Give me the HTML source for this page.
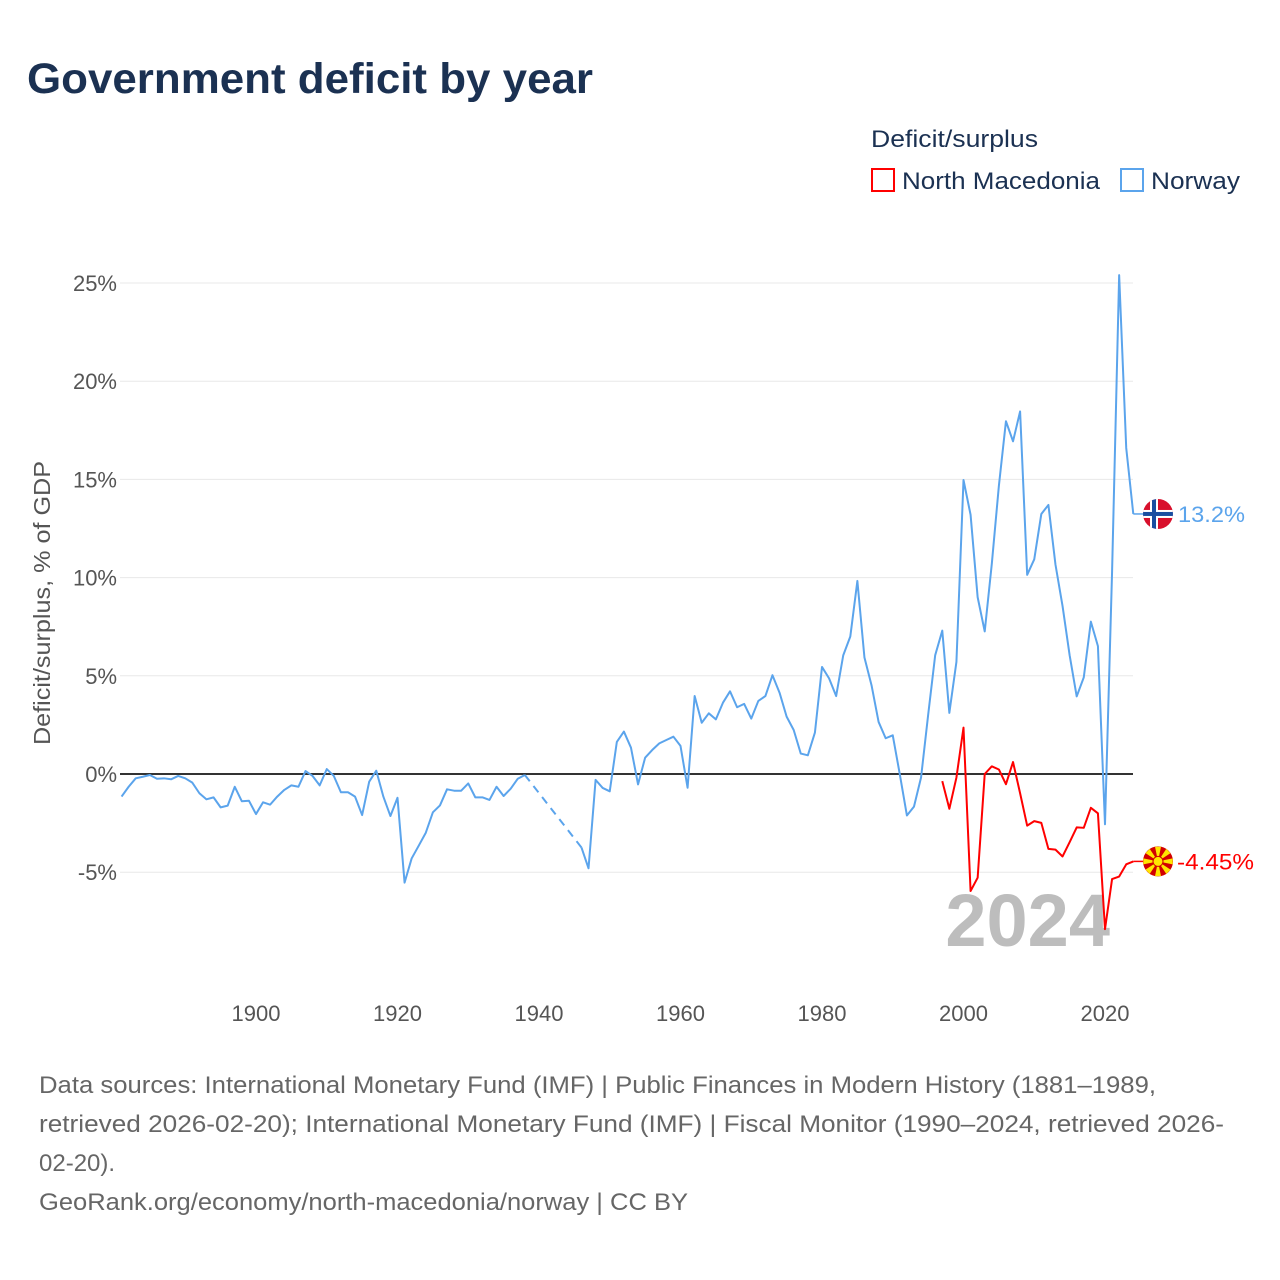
<!DOCTYPE html>
<html><head><meta charset="utf-8"><style>
html,body{margin:0;padding:0;background:#fff;width:1280px;height:1280px;overflow:hidden;font-family:"Liberation Sans",sans-serif;}
</style></head><body>
<svg id="chart" width="1280" height="1280" xmlns="http://www.w3.org/2000/svg" font-family="Liberation Sans, sans-serif">
<text x="27" y="93" font-size="43" font-weight="bold" fill="#1b3152" textLength="566" lengthAdjust="spacingAndGlyphs">Government deficit by year</text>
<g>
<text x="871" y="147" font-size="24" fill="#1b3152" textLength="167" lengthAdjust="spacingAndGlyphs">Deficit/surplus</text>
<rect x="872" y="169" width="22" height="22" fill="none" stroke="#f00" stroke-width="2"/>
<text x="902" y="189" font-size="24" fill="#1b3152" textLength="198" lengthAdjust="spacingAndGlyphs">North Macedonia</text>
<rect x="1121" y="169" width="22" height="22" fill="none" stroke="#5ba4ec" stroke-width="2"/>
<text x="1151" y="189" font-size="24" fill="#1b3152" textLength="89" lengthAdjust="spacingAndGlyphs">Norway</text>
</g>
<text transform="translate(50,603) rotate(-90)" text-anchor="middle" font-size="23" fill="#555" textLength="284" lengthAdjust="spacingAndGlyphs">Deficit/surplus, % of GDP</text>
<g id="grid"></g>
<text x="1110" y="946" text-anchor="end" font-size="74" font-weight="bold" fill="#bdbdbd">2024</text>
<g id="series"></g>
<g font-size="24" fill="#666">
<text x="39" y="1093" textLength="1117" lengthAdjust="spacingAndGlyphs">Data sources: International Monetary Fund (IMF) | Public Finances in Modern History (1881–1989,</text>
<text x="39" y="1132" textLength="1185" lengthAdjust="spacingAndGlyphs">retrieved 2026-02-20); International Monetary Fund (IMF) | Fiscal Monitor (1990–2024, retrieved 2026-</text>
<text x="39" y="1171">02-20).</text>
<text x="39" y="1210" textLength="649" lengthAdjust="spacingAndGlyphs">GeoRank.org/economy/north-macedonia/norway | CC BY</text>
</g>
</svg>
<script>
const yTicks = [-5, 0, 5, 10, 15, 20, 25];
const xTicks = [1900, 1920, 1940, 1960, 1980, 2000, 2020];
const norwayStart = 1881;
const norwayValues = [-1.15,-0.65,-0.22,-0.14,-0.05,-0.24,-0.22,-0.27,-0.10,-0.22,-0.44,-0.98,-1.29,-1.19,-1.70,-1.61,-0.65,-1.39,-1.36,-2.04,-1.44,-1.56,-1.15,-0.81,-0.58,-0.65,0.15,-0.10,-0.58,0.25,-0.10,-0.93,-0.93,-1.15,-2.09,-0.39,0.17,-1.15,-2.14,-1.21,-5.53,-4.30,-3.65,-2.99,-1.95,-1.60,-0.78,-0.85,-0.85,-0.48,-1.19,-1.19,-1.32,-0.65,-1.12,-0.75,-0.24,-0.05,
null,null,null,null,null,null,null,-3.74,-4.80,
-0.30,-0.71,-0.88,1.63,2.16,1.34,-0.53,0.83,1.22,1.56,1.73,1.90,1.43,-0.70,3.97,2.61,3.09,2.78,3.63,4.21,3.40,3.57,2.82,3.72,3.97,5.03,4.14,2.92,2.24,1.04,0.95,2.11,5.45,4.87,3.97,6.04,7.00,9.83,5.93,4.52,2.65,1.82,1.97,-0.02,-2.11,-1.66,-0.18,3.0,6.05,7.30,3.11,5.71,14.97,13.2,9.0,7.26,10.7,14.67,17.96,16.94,18.46,10.14,10.93,13.24,13.7,10.66,8.55,6.05,3.95,4.92,7.76,6.51,-2.56,10.3,25.4,16.6,13.24];
const macedoniaStart = 1997;
const macedoniaValues = [-0.36,-1.77,-0.18,2.36,-5.96,-5.28,0.0,0.39,0.23,-0.52,0.61,-0.98,-2.63,-2.40,-2.49,-3.81,-3.85,-4.2,-3.47,-2.72,-2.74,-1.72,-2.0,-7.9,-5.35,-5.22,-4.6,-4.45];
const endLabels = ["13.2%", "-4.45%"];

const NS = "http://www.w3.org/2000/svg";
const X = yr => 256 + (yr - 1900) * (1105 - 256) / 120;
const Y = v => 774 - v * (774 - 283) / 25;
function mk(tag, attrs, parent){const e=document.createElementNS(NS,tag);for(const k in attrs)e.setAttribute(k,attrs[k]);parent.appendChild(e);return e;}
const grid = document.getElementById('grid');
yTicks.forEach(t=>{
  const l = mk('line',{x1:120,x2:1133,y1:Y(t),y2:Y(t),stroke:t===0?'#333':'#e8e8e8','stroke-width':t===0?2:1},grid);
  
  
  const tx = mk('text',{x:117,y:Y(t)+8,'text-anchor':'end','font-size':22,fill:'#555'},grid);
  tx.textContent = t + '%';
  
  
});
xTicks.forEach(t=>{
  const tx = mk('text',{x:X(t),y:1021,'text-anchor':'middle','font-size':22,fill:'#555'},grid);
  tx.textContent = t;
  
  
});
const series = document.getElementById('series');
function drawSeries(start, vals, color, name){
  let seg = [], lastPt = null, pendingGap = false;
  const paths = [];
  vals.forEach((v,i)=>{
    if(v===null){ if(seg.length){paths.push({pts:seg,dash:false});lastPt=seg[seg.length-1];seg=[];} pendingGap=true; return;}
    const p=[X(start+i),Y(v)];
    if(pendingGap && lastPt){paths.push({pts:[lastPt,p],dash:true});pendingGap=false;}
    seg.push(p);
  });
  if(seg.length) paths.push({pts:seg,dash:false});
  paths.forEach(pp=>{
    const el = mk('polyline',{points:pp.pts.map(p=>p.join(',')).join(' '),fill:'none',stroke:color,'stroke-width':2,'stroke-linejoin':'round','stroke-dasharray':pp.dash?'8,6':'none'},series);
    
    
  });
}
drawSeries(norwayStart, norwayValues, '#5ba4ec', 'norway');
drawSeries(macedoniaStart, macedoniaValues, '#f00', 'north-macedonia');

const nLast = norwayValues[norwayValues.length-1], mLast = macedoniaValues[macedoniaValues.length-1];
const ny = Y(nLast), my = Y(mLast);
let c = mk('line',{x1:X(2024),x2:1145,y1:ny,y2:ny,stroke:'#5ba4ec','stroke-width':1.5},series);


c = mk('line',{x1:X(2024),x2:1145,y1:my,y2:my,stroke:'#f00','stroke-width':1.5},series);


const nf = mk('g',{},series);


const cp = mk('clipPath',{id:'cn'},nf);
mk('circle',{cx:1158,cy:ny,r:15},cp);
const ng = mk('g',{'clip-path':'url(#cn)'},nf);
mk('rect',{x:1143,y:ny-15,width:30,height:30,fill:'#d8102c'},ng);
mk('rect',{x:1143,y:ny-4,width:30,height:8,fill:'#fff'},ng);
mk('rect',{x:1150,y:ny-15,width:8,height:30,fill:'#fff'},ng);
mk('rect',{x:1143,y:ny-2,width:30,height:4,fill:'#1a4ea0'},ng);
mk('rect',{x:1152,y:ny-15,width:4,height:30,fill:'#1a4ea0'},ng);
let t = mk('text',{x:1178,y:ny+8,'font-size':22,fill:'#5ba4ec',textLength:67,lengthAdjust:'spacingAndGlyphs'},series);
t.textContent = endLabels[0];


const mf = mk('g',{},series);


mk('circle',{cx:1158,cy:my,r:15,fill:'#d20000'},mf);
for(let k=0;k<8;k++){
  const a=k*Math.PI/4, a1=a-0.2, a2=a+0.2;
  mk('polygon',{points:`1158,${my} ${1158+15*Math.cos(a1)},${my+15*Math.sin(a1)} ${1158+15*Math.cos(a2)},${my+15*Math.sin(a2)}`,fill:'#ffe600'},mf);
}
mk('circle',{cx:1158,cy:my,r:5,fill:'#ffe600',stroke:'#d20000','stroke-width':1},mf);
t = mk('text',{x:1177,y:my+8,'font-size':22,fill:'#f00',textLength:77,lengthAdjust:'spacingAndGlyphs'},series);
t.textContent = endLabels[1];


</script>
</body></html>
